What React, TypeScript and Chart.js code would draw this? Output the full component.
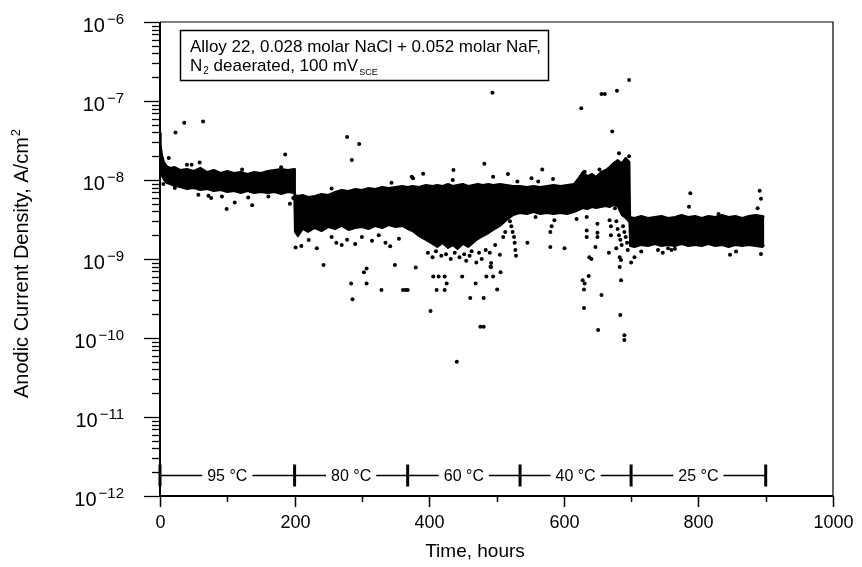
import React, { useEffect, useRef } from 'react';
import { Chart, registerables } from 'chart.js';

Chart.register(...registerables);

const FONT = '"Liberation Sans", Arial, Helvetica, sans-serif';

// Dense band of readings: upper and lower envelope (A/cm^2) against time (hours)
const bandTime = [
  0, 1, 3, 6, 10, 15, 22, 30, 40, 50, 60, 70, 80, 90, 100, 110, 120, 130, 140, 150, 160, 170, 180, 190, 199.5,
  200.5, 205, 212, 220, 230, 240, 250, 260, 270, 280, 290, 300, 310, 320, 330, 340, 350, 360, 368,
  375, 385, 395, 405, 412, 420, 428, 435, 442, 450, 458, 465, 472, 480, 488, 495, 505, 515, 525, 535,
  545, 555, 565, 575, 585, 595, 605, 615, 622, 628, 635, 642, 648, 655, 662, 668, 674, 680, 686, 692, 697.5,
  698.5, 705, 715, 725, 735, 745, 755, 765, 775, 785, 795, 805, 815, 825, 835, 845, 855, 865, 875, 885, 895, 898,
];
const bandHigh = [
  3.9e-8, 2.77e-8, 2.07e-8, 1.69e-8, 1.5e-8, 1.42e-8, 1.46e-8, 1.34e-8, 1.38e-8, 1.3e-8, 1.42e-8, 1.26e-8, 1.34e-8, 1.23e-8, 1.3e-8, 1.23e-8, 1.26e-8, 1.19e-8, 1.26e-8, 1.23e-8, 1.3e-8, 1.34e-8, 1.38e-8, 1.34e-8, 1.38e-8,
  6.46e-9, 6.27e-9, 6.46e-9, 6.09e-9, 6.27e-9, 6.65e-9, 6.46e-9, 7.05e-9, 7.47e-9, 7.26e-9, 7.7e-9, 7.47e-9, 7.93e-9, 7.7e-9, 8.16e-9, 7.93e-9, 8.16e-9, 8.4e-9, 8.16e-9,
  8.4e-9, 8.16e-9, 8.64e-9, 8.4e-9, 8.64e-9, 8.4e-9, 8.9e-9, 8.4e-9, 8.64e-9, 8.9e-9, 8.4e-9, 8.64e-9, 8.9e-9, 8.64e-9, 8.9e-9, 8.64e-9, 8.9e-9, 8.64e-9, 8.4e-9, 8.4e-9,
  8.16e-9, 8.4e-9, 8.16e-9, 8.4e-9, 8.64e-9, 8.4e-9, 8.64e-9, 8.9e-9, 1.06e-8, 1.26e-8, 1.12e-8, 1.19e-8, 1.09e-8, 1.26e-8, 1.34e-8, 1.46e-8, 1.64e-8, 1.79e-8, 1.64e-8, 1.9e-8, 1.69e-8,
  3.4e-9, 3.3e-9, 3.5e-9, 3.3e-9, 3.4e-9, 3.5e-9, 3.3e-9, 3.4e-9, 3.61e-9, 3.4e-9, 3.5e-9, 3.3e-9, 3.5e-9, 3.4e-9, 3.61e-9, 3.4e-9, 3.5e-9, 3.3e-9, 3.5e-9, 3.61e-9, 3.5e-9, 3.4e-9,
];
const bandLow = [
  1.55e-8, 1.34e-8, 1.12e-8, 1.0e-8, 9.16e-9, 8.9e-9, 8.4e-9, 8.16e-9, 7.7e-9, 7.93e-9, 7.47e-9, 7.7e-9, 7.26e-9, 7.47e-9, 7.05e-9, 7.26e-9, 6.85e-9, 7.26e-9, 6.85e-9, 7.05e-9, 6.85e-9, 7.05e-9, 6.65e-9, 7.05e-9, 6.85e-9,
  2.2e-9, 1.95e-9, 2.4e-9, 2.2e-9, 2.47e-9, 2.26e-9, 2.54e-9, 2.4e-9, 2.62e-9, 2.33e-9, 2.47e-9, 2.54e-9, 2.4e-9, 2.62e-9, 2.47e-9, 2.69e-9, 2.54e-9, 2.62e-9, 2.4e-9,
  2.26e-9, 1.95e-9, 1.74e-9, 1.55e-9, 1.42e-9, 1.59e-9, 1.38e-9, 1.5e-9, 1.34e-9, 1.55e-9, 1.42e-9, 1.59e-9, 1.79e-9, 1.95e-9, 2.13e-9, 2.33e-9, 2.62e-9, 3.12e-9, 3.61e-9, 3.82e-9,
  3.71e-9, 3.93e-9, 3.71e-9, 3.82e-9, 3.71e-9, 3.82e-9, 3.71e-9, 3.93e-9, 4.17e-9, 4.42e-9, 4.29e-9, 4.55e-9, 4.42e-9, 4.55e-9, 4.69e-9, 4.55e-9, 4.83e-9, 4.69e-9, 3.61e-9, 3.3e-9, 2.94e-9,
  1.46e-9, 1.42e-9, 1.5e-9, 1.46e-9, 1.55e-9, 1.46e-9, 1.5e-9, 1.46e-9, 1.55e-9, 1.46e-9, 1.5e-9, 1.46e-9, 1.55e-9, 1.46e-9, 1.5e-9, 1.42e-9, 1.5e-9, 1.46e-9, 1.5e-9, 1.46e-9, 1.42e-9, 1.5e-9,
];

// Isolated readings [time h, current density A/cm^2] per temperature step
const outliers95 = [
  [5, 8.9e-9], [13, 1.9e-8], [22, 7.9e-9], [23, 4.0e-8], [36, 5.3e-8], [40, 1.56e-8], [47, 1.56e-8], [57, 6.5e-9],
  [59, 1.67e-8], [64, 5.5e-8], [72, 6.3e-9], [76, 5.9e-9], [92, 6.2e-9], [99, 4.3e-9], [111, 5.2e-9], [122, 1.36e-8],
  [131, 6.0e-9], [137, 4.8e-9], [161, 6.2e-9], [180, 1.45e-8], [186, 2.1e-8], [193, 5.0e-9], [198, 5.9e-9],
];
const outliers80 = [
  [201.5, 1.4e-9], [210, 1.46e-9], [221, 1.74e-9], [233, 1.37e-9], [243, 8.4e-10], [255, 7.8e-9], [255, 1.9e-9],
  [262, 1.6e-9], [270, 1.5e-9], [278, 3.5e-8], [278, 1.75e-9], [284, 4.9e-10], [285, 1.79e-8], [286, 3.1e-10],
  [290, 1.55e-9], [296, 2.86e-8], [300, 1.9e-9], [303, 6.8e-10], [307, 7.6e-10], [307, 4.9e-10], [315, 1.7e-9],
  [325, 2.0e-9], [329, 4.06e-10], [335, 1.6e-9], [342, 1.45e-9], [344, 9.2e-9], [349, 8.4e-10], [355, 1.8e-9],
  [361, 4.06e-10], [365, 4.06e-10], [368, 4.06e-10],
];
const outliers60 = [
  [374, 1.1e-8], [376, 1.05e-8], [380, 7.8e-10], [391, 1.2e-8], [398, 1.2e-9], [402, 2.2e-10], [405, 1.05e-9],
  [406, 6.0e-10], [410, 1.25e-9], [411, 4.06e-10], [414, 6.0e-10], [418, 1.1e-9], [423, 4.06e-10], [423, 6.0e-10],
  [425, 1.15e-9], [426, 4.9e-10], [432, 1.0e-9], [435, 1.0e-8], [436, 1.34e-8], [438, 1.2e-9], [441, 5.0e-11],
  [445, 1.05e-9], [449, 6.0e-10], [452, 1.15e-9], [455, 9.5e-10], [460, 1.1e-9], [461, 3.2e-10], [463, 1.25e-9],
  [469, 4.9e-10], [470, 9.0e-10], [474, 1.2e-9], [476, 1.39e-10], [478, 1.0e-9], [481, 1.39e-10], [481, 3.2e-10],
  [482, 1.6e-8], [484, 1.3e-9], [485, 6.0e-10], [490, 1.2e-9], [491, 8.0e-10], [492, 7.9e-10], [492, 8.9e-10],
  [494, 1.27e-7], [495, 1.1e-8], [495, 6.0e-10], [498, 1.5e-9], [501, 4.1e-10], [505, 1.13e-9], [506, 6.8e-10],
  [510, 1.9e-9], [513, 2.2e-9], [517, 1.19e-8], [520, 3.0e-9], [522, 2.6e-9], [524, 2.2e-9], [526, 1.9e-9],
  [527, 1.6e-9], [528, 1.3e-9], [529, 1.1e-9], [531, 9.6e-9],
];
const outliers40 = [
  [546, 1.6e-9], [552, 1.05e-8], [558, 3.4e-9], [562, 9.6e-9], [568, 1.36e-8], [580, 1.42e-9], [580, 2.2e-9],
  [582, 2.6e-9], [584, 1.03e-8], [586, 3.1e-9], [601, 1.37e-9], [619, 3.2e-9], [626, 8.1e-8], [628, 5.4e-10],
  [630, 4.1e-10], [630, 2.4e-10], [631, 4.9e-10], [631, 1.27e-8], [634, 3.4e-9], [634, 2.3e-9], [634, 1.9e-9],
  [637, 6.1e-10], [638, 1.05e-9], [641, 1.0e-9], [647, 1.42e-9], [650, 2.8e-9], [650, 2.15e-9], [650, 1.9e-9],
  [651, 1.26e-10], [653, 1.36e-8], [656, 3.5e-10], [656, 1.23e-7], [661, 1.23e-7], [667, 1.2e-9], [668, 3.1e-9],
  [670, 2.6e-9], [670, 2.0e-9], [672, 4.1e-8], [676, 4.4e-9], [678, 3.0e-9], [678, 1.37e-9], [679, 1.35e-7],
  [680, 2.4e-9], [682, 2.18e-8], [682, 2.0e-9], [683, 1.05e-9], [683, 7.9e-10], [684, 1.75e-9], [684, 1.95e-10],
  [685, 9.7e-10], [685, 5.4e-10], [686, 1.5e-9], [688, 2.6e-9], [690, 2.2e-9], [690, 1.08e-10], [690, 9.4e-11],
  [692, 1.9e-9], [694, 1.6e-9], [695, 1.3e-9], [697, 2.0e-8], [697, 1.85e-7], [697, 3.9e-9],
];
const outliers25 = [
  [700, 9.0e-10], [705, 1.05e-9], [715, 1.24e-9], [740, 1.3e-9], [747, 1.2e-9], [755, 1.37e-9], [760, 1.3e-9],
  [765, 1.35e-9], [786, 4.6e-9], [788, 6.8e-9], [830, 3.7e-9], [847, 1.13e-9], [856, 1.24e-9], [888, 4.4e-9],
  [891, 7.3e-9], [893, 5.8e-9], [893, 1.16e-9],
];

// Axes
const xMajorTicks = [0, 200, 400, 600, 800, 1000];
const xMinorTicks = [100, 300, 500, 700, 900];
const yDecades = [-12, -11, -10, -9, -8, -7, -6];
const yMinorFactors = [2, 3, 4, 5, 6, 7, 8, 9];

// Temperature steps annotation
const tempBounds = [0, 200, 368, 535, 700, 900];
const tempLabels = ['95 °C', '80 °C', '60 °C', '40 °C', '25 °C'];
const tempLevel = 1.85e-12;

const noteLine1 = 'Alloy 22, 0.028 molar NaCl + 0.052 molar NaF,';

const decorPlugin = {
  id: 'decor',
  beforeDraw(chart: any) {
    const { ctx, width, height } = chart;
    ctx.save();
    ctx.fillStyle = '#fff';
    ctx.fillRect(0, 0, width, height);
    ctx.restore();
  },
  afterDraw(chart: any) {
    const { ctx } = chart;
    const { left, right, top, bottom } = chart.chartArea;
    const x = chart.scales.x;
    const y = chart.scales.y;
    ctx.save();
    ctx.fillStyle = '#000';
    ctx.strokeStyle = '#000';

    // frame
    ctx.lineWidth = 1.2;
    ctx.beginPath();
    ctx.moveTo(left, top);
    ctx.lineTo(right, top);
    ctx.lineTo(right, bottom);
    ctx.stroke();
    ctx.lineWidth = 2;
    ctx.beginPath();
    ctx.moveTo(left, top);
    ctx.lineTo(left, bottom);
    ctx.lineTo(right, bottom);
    ctx.stroke();

    // y ticks
    ctx.lineWidth = 1.3;
    yDecades.forEach((d) => {
      const py = Math.round(y.getPixelForValue(Math.pow(10, d))) + 0.5;
      ctx.beginPath();
      ctx.moveTo(left - 16, py);
      ctx.lineTo(left, py);
      ctx.stroke();
      if (d < -6) {
        yMinorFactors.forEach((m) => {
          const pm = Math.round(y.getPixelForValue(m * Math.pow(10, d))) + 0.5;
          ctx.beginPath();
          ctx.moveTo(left - 8, pm);
          ctx.lineTo(left, pm);
          ctx.stroke();
        });
      }
      // label 10^d
      const sup = '−' + Math.abs(d);
      ctx.textAlign = 'left';
      ctx.textBaseline = 'alphabetic';
      ctx.font = `15px ${FONT}`;
      const wSup = ctx.measureText(sup).width;
      const supX = 124 - wSup;
      ctx.fillText(sup, supX, py + 1);
      ctx.font = `20px ${FONT}`;
      const w10 = ctx.measureText('10').width;
      ctx.fillText('10', supX - 2 - w10, py + 9);
    });

    // x ticks
    ctx.lineWidth = 1.5;
    xMajorTicks.forEach((v) => {
      const px = Math.round(x.getPixelForValue(v)) + 0.5;
      ctx.beginPath();
      ctx.moveTo(px, bottom);
      ctx.lineTo(px, bottom + 11);
      ctx.stroke();
      ctx.font = `18px ${FONT}`;
      ctx.textAlign = 'center';
      ctx.textBaseline = 'alphabetic';
      ctx.fillText(String(v), px, bottom + 32);
    });
    xMinorTicks.forEach((v) => {
      const px = Math.round(x.getPixelForValue(v)) + 0.5;
      ctx.beginPath();
      ctx.moveTo(px, bottom);
      ctx.lineTo(px, bottom + 6);
      ctx.stroke();
    });

    // axis titles
    ctx.font = `19px ${FONT}`;
    ctx.textAlign = 'center';
    ctx.fillText('Time, hours', 475, bottom + 61);

    ctx.save();
    ctx.translate(28, (top + bottom) / 2 + 5);
    ctx.rotate(-Math.PI / 2);
    ctx.font = `20px ${FONT}`;
    const main = 'Anodic Current Density, A/cm';
    const wMain = ctx.measureText(main).width;
    ctx.font = `13px ${FONT}`;
    const wTwo = ctx.measureText('2').width;
    const start = -(wMain + wTwo) / 2;
    ctx.textAlign = 'left';
    ctx.font = `20px ${FONT}`;
    ctx.fillText(main, start, 0);
    ctx.font = `13px ${FONT}`;
    ctx.fillText('2', start + wMain + 1, -8);
    ctx.restore();

    // temperature steps
    const ty = Math.round(y.getPixelForValue(tempLevel)) + 0.5;
    ctx.lineWidth = 1.3;
    ctx.beginPath();
    ctx.moveTo(x.getPixelForValue(tempBounds[0]), ty);
    ctx.lineTo(x.getPixelForValue(tempBounds[tempBounds.length - 1]), ty);
    ctx.stroke();
    ctx.font = `16px ${FONT}`;
    ctx.textAlign = 'center';
    ctx.textBaseline = 'middle';
    tempLabels.forEach((lab, i) => {
      const cx = (x.getPixelForValue(tempBounds[i]) + x.getPixelForValue(tempBounds[i + 1])) / 2;
      const w = ctx.measureText(lab).width;
      ctx.fillStyle = '#fff';
      ctx.fillRect(cx - w / 2 - 5, ty - 8, w + 10, 16);
      ctx.fillStyle = '#000';
      ctx.fillText(lab, cx, ty + 1);
    });
    ctx.lineWidth = 3;
    tempBounds.forEach((b) => {
      const px = x.getPixelForValue(b);
      ctx.beginPath();
      ctx.moveTo(px, ty - 11);
      ctx.lineTo(px, ty + 11);
      ctx.stroke();
    });

    // note box
    ctx.lineWidth = 1.5;
    ctx.strokeRect(180.5, 30.5, 368, 50);
    ctx.textAlign = 'left';
    ctx.textBaseline = 'alphabetic';
    ctx.font = `17px ${FONT}`;
    ctx.fillText(noteLine1, 190, 52);
    let cx = 190;
    const base2 = 71;
    ctx.fillText('N', cx, base2);
    cx += ctx.measureText('N').width + 1;
    ctx.font = `10px ${FONT}`;
    ctx.fillText('2', cx, base2 + 3);
    cx += ctx.measureText('2').width;
    ctx.font = `17px ${FONT}`;
    const mid = ' deaerated, 100 mV';
    ctx.fillText(mid, cx, base2);
    cx += ctx.measureText(mid).width + 1;
    ctx.font = `9px ${FONT}`;
    ctx.fillText('SCE', cx, base2 + 4);

    ctx.restore();
  },
};

const App = () => {
  const ref = useRef<HTMLCanvasElement>(null);
  useEffect(() => {
    const canvas = ref.current;
    if (!canvas) return;
    const toPts = (arr: number[][]) => arr.map(([t, v]) => ({ x: t, y: v }));
    const outliers = [
      ...toPts(outliers95),
      ...toPts(outliers80),
      ...toPts(outliers60),
      ...toPts(outliers40),
      ...toPts(outliers25),
    ];
    const chart = new Chart(canvas, {
      type: 'scatter',
      data: {
        datasets: [
          {
            type: 'line',
            data: bandTime.map((t, i) => ({ x: t, y: bandHigh[i] })),
            borderColor: '#000',
            backgroundColor: '#000',
            borderWidth: 2,
            borderJoinStyle: 'round',
            pointRadius: 0,
            fill: '+1',
            tension: 0,
          } as any,
          {
            type: 'line',
            data: bandTime.map((t, i) => ({ x: t, y: bandLow[i] })),
            borderColor: '#000',
            backgroundColor: '#000',
            borderWidth: 2,
            borderJoinStyle: 'round',
            pointRadius: 0,
            fill: false,
            tension: 0,
          } as any,
          {
            type: 'scatter',
            data: outliers,
            pointRadius: 2,
            pointBorderWidth: 0,
            backgroundColor: '#000',
            borderColor: '#000',
          } as any,
        ],
      },
      options: {
        responsive: false,
        animation: false,
        layout: { padding: { left: 160, top: 22, right: 29, bottom: 71 } },
        plugins: { legend: { display: false }, tooltip: { enabled: false } },
        scales: {
          x: { type: 'linear', min: 0, max: 1000, display: false },
          y: { type: 'logarithmic', min: 1e-12, max: 1e-6, display: false },
        },
      },
      plugins: [decorPlugin],
    });
    return () => chart.destroy();
  }, []);
  return (
    <div style={{ position: 'fixed', left: 0, top: 0, width: 862, height: 567, background: '#fff' }}>
      <canvas ref={ref} width={862} height={567} style={{ display: 'block', width: 862, height: 567 }} />
    </div>
  );
};

export default App;
